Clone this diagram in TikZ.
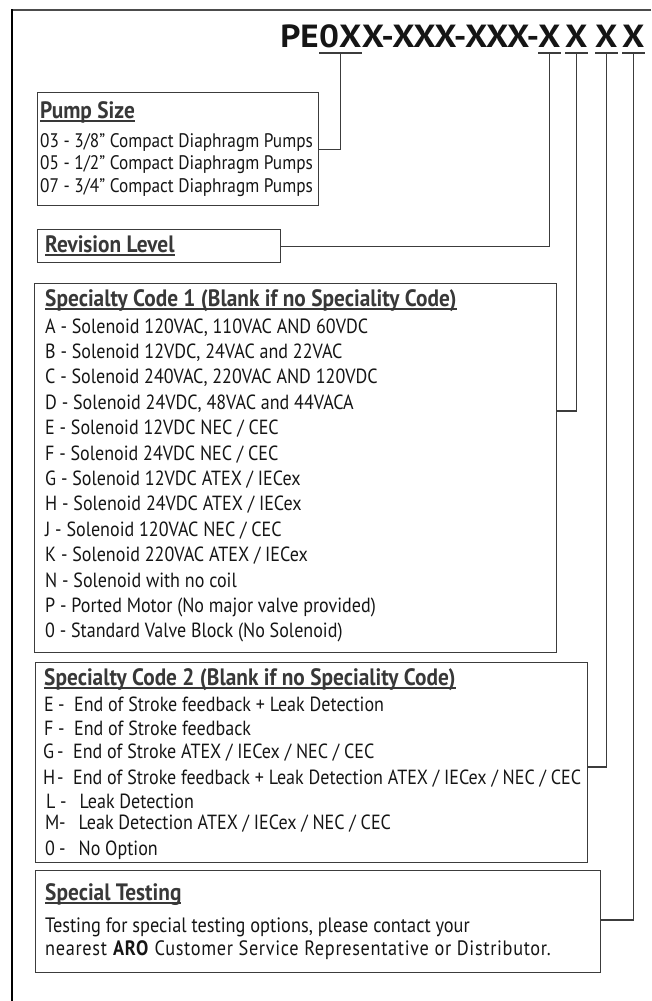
\documentclass[tikz,border=0pt]{standalone}
\usepackage{fontspec}
\setmainfont{PT Sans}[FakeStretch=0.88]
\newfontfamily\hdfont{PT Sans}[FakeStretch=0.9]
\newfontfamily\ttlfont{PT Sans}[FakeStretch=1.1]
\newfontfamily\widefont{PT Sans}[FakeStretch=0.88,LetterSpace=3.2]
\newcommand\myul[1]{\setbox0\hbox{#1}\rlap{\rule[-3.8pt]{\wd0}{1.5pt}}\box0}
\newcommand\cl[2]{\makebox[14pt][l]{#1}\makebox[16pt][l]{-}#2}
\definecolor{boxc}{HTML}{3C3C3C}
\definecolor{txtc}{HTML}{151515}
\begin{document}
\begin{tikzpicture}[x=1pt,y=-1pt,
  box/.style={draw=boxc, line width=1.1pt, anchor=north west, inner sep=0},
  conn/.style={draw=boxc, line width=1.1pt},
  ulc/.style={draw=boxc, line width=1.5pt},
  txt/.style={anchor=base west, inner sep=0, text=txtc, font=\fontsize{20.5}{22}\selectfont},
  ptxt/.style={txt, font=\fontsize{19.6}{21}\selectfont},
  ctxt/.style={txt, font=\fontsize{20.5}{22}\selectfont},
  stxt/.style={txt, font=\fontsize{20.8}{23}\selectfont},
  hd/.style={anchor=base west, inner sep=0, text=txtc!85!white, font=\hdfont\bfseries\fontsize{23.7}{25}\selectfont},
  ttl/.style={inner sep=0, text=txtc, font=\ttlfont\bfseries\fontsize{32}{32}\selectfont}]
\useasboundingbox (0,0) rectangle (651,1001);
% outer frame
\draw[line width=2pt, draw=black!70] (651,10) -- (11,10);
\draw[line width=1.4pt, draw=black] (12,9) -- (12,1001);
% title
\node[ttl, anchor=base west] (t0x) at (319,47) {0X};
\node[ttl, anchor=base east] (tpe) at (t0x.base west) {PE};
\node[ttl, anchor=base west] (tmid) at (t0x.base east) {X-XXX-XXX-};
\node[ttl, anchor=base west] (x1) at (538,47) {X};
\node[ttl, anchor=base west] (x2) at (565,47) {X};
\node[ttl, anchor=base west] (x3) at (595,47) {X};
\node[ttl, anchor=base west] (x4) at (622,47) {X};
\foreach \n in {t0x,x1,x2,x3,x4}{
  \draw[ulc] ([yshift=-6pt]\n.base west) -- ([yshift=-6pt]\n.base east);
  \coordinate (u\n) at ([yshift=-6pt]\n.base);
}
% boxes
\node[box, minimum width=281, minimum height=113] (pump) at (37,92) {};
\node[box, minimum width=243, minimum height=33] (rev) at (37,229) {};
\node[box, minimum width=522, minimum height=369] (spec1) at (34,283) {};
\node[box, minimum width=552, minimum height=200] (spec2) at (35,662) {};
\node[box, minimum width=565, minimum height=102] (special) at (35,870) {};
% connectors
\draw[conn] (ut0x) |- (pump.east);
\draw[conn] (ux1) |- (rev.east);
\draw[conn] (ux2) |- ([yshift=-128pt]spec1.north east);
\draw[conn] (ux3) |- ([yshift=-105pt]spec2.north east);
\draw[conn] (ux4) |- ([yshift=-50pt]special.north east);
% pump size
\node[hd] (ph) at (40,118) {\myul{Pump Size}};
\node[ptxt] (p1) at (40,147) {03 - 3/8” Compact Diaphragm Pumps};
\node[ptxt] (p2) at (40,169) {05 - 1/2” Compact Diaphragm Pumps};
\node[ptxt] (p3) at (40,192) {07 - 3/4” Compact Diaphragm Pumps};
% revision
\node[hd] (rh) at (45,252) {\myul{Revision Level}};
% specialty code 1
\node[hd] (s1h) at (45,306) {\myul{Specialty Code 1 (Blank if no Speciality Code)}};
\foreach \t [count=\i from 0] in {
  A - Solenoid 120VAC{,} 110VAC AND 60VDC,
  B - Solenoid 12VDC{,} 24VAC and 22VAC,
  C - Solenoid 240VAC{,} 220VAC AND 120VDC,
  D - Solenoid 24VDC{,} 48VAC and 44VACA,
  E - Solenoid 12VDC NEC / CEC,
  F - Solenoid 24VDC NEC / CEC,
  G - Solenoid 12VDC ATEX / IECex,
  H - Solenoid 24VDC ATEX / IECex,
  J - Solenoid 120VAC NEC / CEC,
  K - Solenoid 220VAC ATEX / IECex,
  N - Solenoid with no coil,
  P - Ported Motor (No major valve provided),
  0 - Standard Valve Block (No Solenoid)}
  \node[txt] (s1l\i) at (45,333+25.4*\i) {\t};
% specialty code 2
\node[hd] (s2h) at (44,685) {\myul{Specialty Code 2 (Blank if no Speciality Code)}};
\node[ctxt] (s2a) at (44,711) {\cl{E}{End of Stroke feedback + Leak Detection}};
\node[ctxt] (s2b) at (44,735) {\cl{F}{End of Stroke feedback}};
\node[ctxt] (s2c) at (43,758) {\cl{G}{End of Stroke ATEX / IECex / NEC / CEC}};
\node[ctxt] (s2d) at (43,784) {\cl{H}{End of Stroke feedback + Leak Detection ATEX / IECex / NEC / CEC}};
\node[ctxt] (s2e) at (46,808) {\cl{L}{\,Leak Detection}};
\node[ctxt] (s2f) at (45,829) {\cl{M}{\,Leak Detection ATEX / IECex / NEC / CEC}};
\node[ctxt] (s2g) at (45,855) {\cl{0}{\,No Option}};
% special testing
\node[hd] (sth) at (45,900) {\myul{Special Testing}};
\node[stxt] (st1) at (45,932) {Testing for special testing options, please contact your};
\node[stxt, font=\widefont\fontsize{20.8}{23}\selectfont] (st2) at (45,955) {nearest \textbf{ARO} Customer Service Representative or Distributor.};
\end{tikzpicture}
\end{document}
